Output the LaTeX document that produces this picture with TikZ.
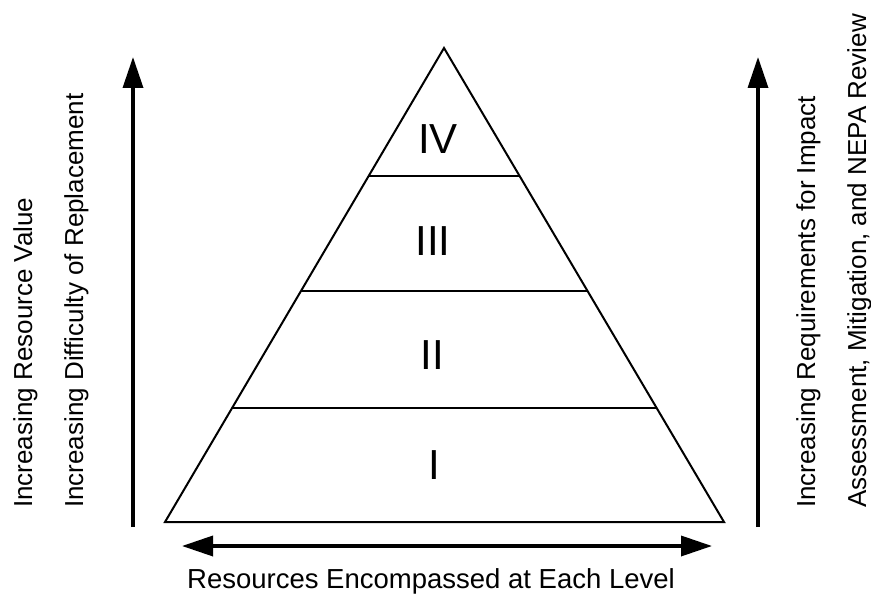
\documentclass[tikz,border=0pt]{standalone}
\usepackage{fontspec}
\setmainfont{Liberation Sans}
\usetikzlibrary{arrows.meta,calc}

\begin{document}
\begin{tikzpicture}[x=1pt,y=-1pt,
    side/.style={rotate=90,anchor=base west,inner sep=0pt,font=\fontsize{26}{31}\selectfont},
    level/.style={inner sep=0pt,font=\fontsize{42}{50}\selectfont},
    bigarrow/.style={line width=3.5pt},
    bighead/.tip={Triangle[width=20pt,length=31pt]}]
  \useasboundingbox (0,0) rectangle (871,594);

  % pyramid
  \coordinate (top) at (444,48);
  \coordinate (bl) at (165,522);
  \coordinate (br) at (724,522);
  \draw[line width=2pt] (top) -- (bl) -- (br) -- cycle;

  % lines between the levels
  \foreach \t in {0.2405,0.4873,0.7300}
    \draw[line width=1.5pt] ($(bl)!\t!(top)$) -- ($(br)!\t!(top)$);

  \node[level] (one)   at (434,465) {I};
  \node[level] (two)   at (432,355) {II};
  \node[level] (three) at (433,241) {III};
  \node[level] (four)  at (438,139) {IV};

  % arrows
  \coordinate (lfoot) at (133,527);
  \coordinate (ltip)  at (133,57);
  \coordinate (rfoot) at (758,527);
  \coordinate (rtip)  at (758,57);
  \coordinate (wleft)  at (182,546);
  \coordinate (wright) at (712,546);
  \draw[bigarrow,-bighead] (lfoot) -- (ltip);
  \draw[bigarrow,-bighead] (rfoot) -- (rtip);
  \draw[bigarrow,bighead-bighead] (wleft) -- (wright);

  % labels
  \node[side] (value)        at (32,508)  {Increasing Resource Value};
  \node[side] (difficulty)   at (83,508)  {Increasing Difficulty of Replacement};
  \node[side] (requirements) at (815,508) {Increasing Requirements for Impact};
  \node[side] (review)       at (866,508) {Assessment, Mitigation, and NEPA Review};
  \node[inner sep=0pt,anchor=base,font=\fontsize{27.5}{32}\selectfont] (encompassed)
    at (431,588) {Resources Encompassed at Each Level};
\end{tikzpicture}
\end{document}
